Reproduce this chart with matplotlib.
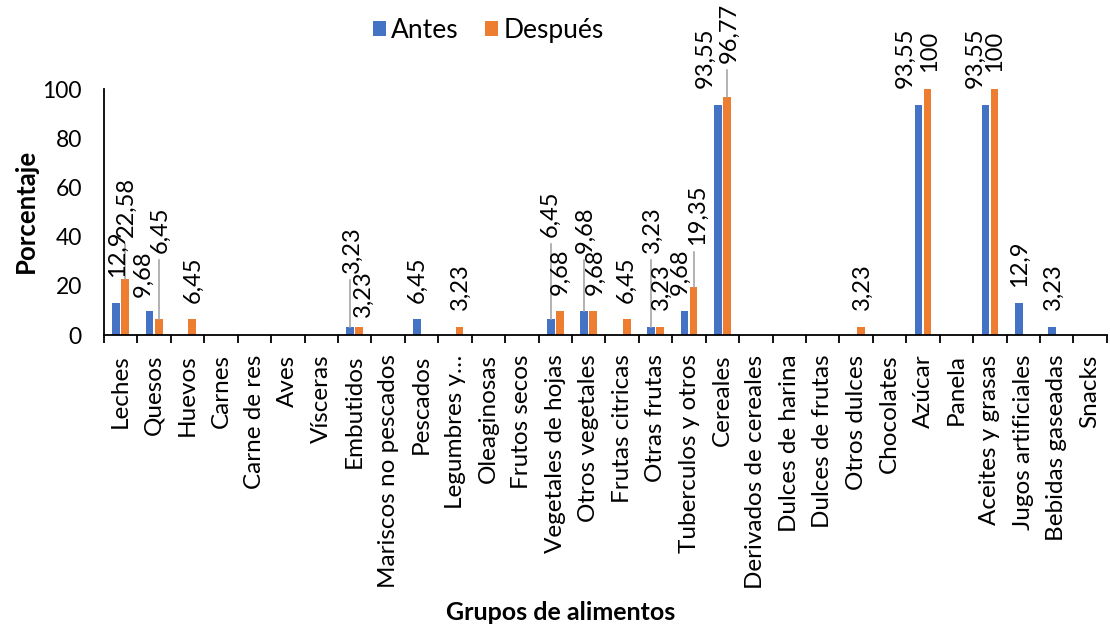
import numpy as np
import matplotlib.pyplot as plt

plt.rcParams['font.family'] = ['Lato', 'DejaVu Sans']

grupos = ["Leches", "Quesos", "Huevos", "Carnes", "Carne de res", "Aves", "Vísceras",
          "Embutidos", "Mariscos no pescados", "Pescados", "Legumbres y…", "Oleaginosas",
          "Frutos secos", "Vegetales de hojas", "Otros vegetales", "Frutas citricas",
          "Otras frutas", "Tuberculos y otros", "Cereales", "Derivados de cereales",
          "Dulces de harina", "Dulces de frutas", "Otros dulces", "Chocolates", "Azúcar",
          "Panela", "Aceites y grasas", "Jugos artificiales", "Bebidas gaseadas", "Snacks"]

antes = [12.9, 9.68, 0, 0, 0, 0, 0, 3.23, 0, 6.45, 0, 0, 0, 6.45, 9.68, 0,
         3.23, 9.68, 93.55, 0, 0, 0, 0, 0, 93.55, 0, 93.55, 12.9, 3.23, 0]
despues = [22.58, 6.45, 6.45, 0, 0, 0, 0, 3.23, 0, 0, 3.23, 0, 0, 9.68, 9.68, 6.45,
           3.23, 19.35, 96.77, 0, 0, 0, 3.23, 0, 100, 0, 100, 0, 0, 0]

AZUL = '#4472C4'
NARANJA = '#ED7D31'

# label placement per bar: (x offset from category centre, y of label base, leader line?)
pos_antes = {0: (-0.11, 23.6, False), 1: (-0.34, 15.4, False), 7: (-0.08, 25.2, True),
             9: (-0.14, 13.0, False), 13: (-0.15, 39.8, True), 14: (-0.10, 33.3, True),
             16: (-0.10, 33.3, True), 17: (-0.27, 16.3, False), 18: (-0.53, 100.4, False),
             24: (-0.54, 100.4, False), 26: (-0.45, 100.4, False), 27: (-0.11, 19.5, False),
             28: (-0.10, 10.2, False)}
pos_despues = {0: (0.155, 39.8, True), 1: (0.17, 33.3, True), 2: (0.15, 13.0, False),
               7: (0.25, 7.3, False), 10: (0.17, 10.2, False), 13: (0.15, 16.3, False),
               14: (0.20, 16.3, False), 15: (0.12, 13.0, False), 16: (0.16, 10.2, False),
               17: (0.24, 36.6, True), 18: (0.19, 110.6, True), 22: (0.18, 10.2, False),
               24: (0.18, 106.9, False), 26: (0.15, 106.9, False)}


def fmt(v):
    return f"{v:g}".replace('.', ',')


x = np.arange(len(grupos))
ancho = 0.23
desp = 0.135

fig = plt.figure(figsize=(11.1, 6.29), dpi=100)
ax = fig.add_axes([0.0937, 0.4674, 0.9035, 0.3911])

ax.bar(x - desp, antes, ancho, color=AZUL, label='Antes')
ax.bar(x + desp, despues, ancho, color=NARANJA, label='Después')

# data labels, some pulled away from the bar with a grey leader
for serie, pos, sgn in [(antes, pos_antes, -1), (despues, pos_despues, 1)]:
    for i, (dx, ly, linea) in pos.items():
        v = serie[i]
        ax.text(i + dx, ly, fmt(v), rotation=90, ha='center', va='bottom',
                fontsize=17, color='black', clip_on=False)
        if linea:
            ax.plot([i + sgn * desp] * 2, [v, ly - 3], color='#a6a6a6', lw=1.2,
                    clip_on=False, zorder=1)

ax.set_xlim(-0.5, len(grupos) - 0.5)
ax.set_ylim(0, 100)
ax.set_yticks(np.arange(0, 101, 20))
ax.tick_params(axis='y', length=0, labelsize=16.5, pad=16)

ax.set_xticks(x)
ax.set_xticklabels(grupos, rotation=90, fontsize=17.5)
ax.set_xticks(np.arange(-0.5, len(grupos), 1), minor=True)
ax.tick_params(axis='x', which='major', length=0, pad=14)
ax.tick_params(axis='x', which='minor', length=6, width=1.3, direction='out')

for s in ['top', 'right']:
    ax.spines[s].set_visible(False)
ax.spines['left'].set_linewidth(1.3)
ax.spines['bottom'].set_linewidth(1.3)

fig.text(0.023, 0.665, 'Porcentaje', rotation=90, ha='center', va='center',
         fontsize=18.5, fontweight='bold')
fig.text(0.505, 0.027, 'Grupos de alimentos', ha='center', va='center',
         fontsize=18, fontweight='bold')

fig.legend(loc='center', bbox_to_anchor=(0.44, 0.952), ncol=2, frameon=False,
           fontsize=19, handlelength=0.5, handleheight=0.5, handletextpad=0.2,
           columnspacing=1.0)

fig.savefig('out.png', dpi=100)
